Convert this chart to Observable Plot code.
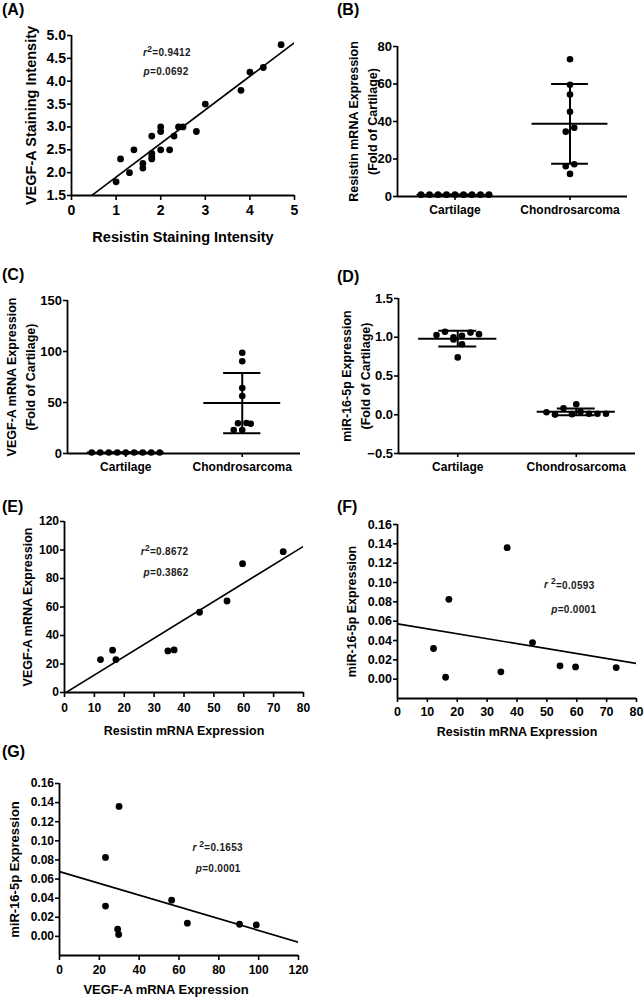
<!DOCTYPE html>
<html><head><meta charset="utf-8">
<script src="https://cdn.jsdelivr.net/npm/d3@7"></script>
<script src="https://cdn.jsdelivr.net/npm/@observablehq/plot@0.6"></script>
<style>
body{margin:0;background:#fff;}
#fig{position:relative;width:644px;height:999px;overflow:hidden;background:#fff;font-family:"Liberation Sans",Arial,Helvetica,sans-serif;}
.panel{position:absolute;}
.plabel{position:absolute;font-weight:bold;font-size:16px;line-height:16px;color:#000;}
</style></head><body><div id="fig"></div>
<script>
// ---------------- DATA ----------------
const groups = ["Cartilage", "Chondrosarcoma"];
// (A) staining intensities
const stainResistin = [1.0,1.1,1.3,1.4,1.6,1.6,1.8,1.8,1.8,1.8,2.0,2.0,2.0,2.2,2.3,2.4,2.5,2.8,3.0,3.8,4.0,4.3,4.7];
const stainVEGF     = [1.8,2.3,2.0,2.5,2.2,2.1,2.8,2.42,2.35,2.3,3.0,2.9,2.5,2.5,2.8,3.0,3.0,2.9,3.5,3.8,4.2,4.3,4.8];
// (B)-(G) expression, fold of cartilage (9 samples each)
const resistinCartilage = [1,1,1,1,1,1,1,1,1];
const resistinChondro   = [12.05,16.1,17.2,34.6,36.7,45.2,54.4,59.6,73.2];
const vegfCartilage     = [1,1,1,1,1,1,1,1,1];
const vegfChondro       = [23.1,29.7,23.1,29.2,29.9,56.3,64.2,90.4,98.8];
const mirCartilage      = [1.03,1.07,0.97,1.00,0.91,0.74,1.02,1.06,1.04];
const mirChondro        = [0.0317,0.002,0.0826,0.0076,0.136,0.0379,0.0138,0.0127,0.012];
// statistics text (as printed) and their data positions
const statsA = ["r2=0.9412", "p=0.0692"];  const statsAx = [2.14, 2.12];  const statsAy = [4.63, 4.21];
const statsE = ["r2=0.8672", "p=0.3862"];  const statsEx = [33.5, 34];   const statsEy = [99, 84];
const statsF = ["r 2=0.0593", "p=0.0001"]; const statsFx = [57.5, 59];   const statsFy = [0.0973, 0.0715];
const statsG = ["r 2=0.1653", "p=0.0001"]; const statsGx = [79.4, 79.7]; const statsGy = [0.0932, 0.0704];
// tick values
const ticksAx = [0,1,2,3,4,5];
const ticksAy = [1.5,2.0,2.5,3.0,3.5,4.0,4.5,5.0];
const ticksBy = [0,20,40,60,80];
const ticksCy = [0,50,100,150];
const ticksDy = [-0.5,0,0.5,1.0,1.5];
const ticks80 = [0,10,20,30,40,50,60,70,80];
const ticksEy = [0,20,40,60,80,100,120];
const ticksMir = [0,0.02,0.04,0.06,0.08,0.10,0.12,0.14,0.16];
const ticksGx = [0,20,40,60,80,100,120];

// ---------------- HELPERS ----------------
const FONT = '"Liberation Sans", Arial, Helvetica, sans-serif';
const fig = document.getElementById("fig");

function regression(xs, ys) {
  const mx = d3.mean(xs), my = d3.mean(ys);
  let sxy = 0, sxx = 0;
  xs.forEach((x, i) => { sxy += (x - mx) * (ys[i] - my); sxx += (x - mx) ** 2; });
  const b = sxy / sxx;
  return {a: my - b * mx, b};
}

function scatterMarks(xs, ys, xDomain, txt, tx, ty) {
  const {a, b} = regression(xs, ys);
  const line = xDomain.map(x => ({x, y: a + b * x}));
  const pts = xs.map((x, i) => ({x, y: ys[i]}));
  const notes = txt.map((t, i) => ({t, x: tx[i], y: ty[i]}));
  return [
    Plot.line(line, {x: "x", y: "y", stroke: "black", strokeWidth: 1.6, clip: true}),
    Plot.dot(pts, {x: "x", y: "y", r: 3.4, fill: "black"}),
    Plot.text(notes, {x: "x", y: "y", text: "t", fontSize: 10, fontWeight: "bold", fill: "#1a1a1a"})
  ];
}

// swarm layout: points that collide vertically are spread horizontally, centred on the group
function swarm(values, g, pxPerY, spacingUnits) {
  const idx = values.map((v, i) => i).sort((a, b) => values[a] - values[b]);
  const rows = []; let cur = null;
  for (const i of idx) {
    if (cur && (values[i] - values[cur[0]]) * pxPerY < 6.5) cur.push(i);
    else { cur = [i]; rows.push(cur); }
  }
  const out = [];
  for (const row of rows) {
    row.sort((a, b) => a - b);
    row.forEach((i, k) => out.push({v: values[i], x: g + (k - (row.length - 1) / 2) * spacingUnits}));
  }
  return out;
}

function groupMarks(cart, chondro, cfg) {
  const iw = cfg.W - cfg.ml - cfg.mr, ih = cfg.H - cfg.mt - cfg.mb;
  const pxX = iw / (cfg.xDomain[1] - cfg.xDomain[0]);
  const pxY = ih / (cfg.yDomain[1] - cfg.yDomain[0]);
  const sp = 8.5 / pxX;
  const pts = [...swarm(cart, 1, pxY, sp), ...swarm(chondro, 2, pxY, sp)];
  const stats = [[1, cart], [2, chondro]].map(([g, v]) => ({g, m: d3.mean(v), s: d3.deviation(v) || 0}));
  return [
    Plot.dot(pts, {x: "x", y: "v", r: 3.3, fill: "black"}),
    Plot.ruleY(stats, {y: "m", x1: d => d.g - 0.33, x2: d => d.g + 0.33, stroke: "black", strokeWidth: 2}),
    Plot.ruleY(stats, {y: d => d.m + d.s, x1: d => d.g - 0.16, x2: d => d.g + 0.16, stroke: "black", strokeWidth: 2}),
    Plot.ruleY(stats, {y: d => d.m - d.s, x1: d => d.g - 0.16, x2: d => d.g + 0.16, stroke: "black", strokeWidth: 2}),
    Plot.ruleX(stats, {x: "g", y1: d => d.m - d.s, y2: d => d.m + d.s, stroke: "black", strokeWidth: 2})
  ];
}

function build(cfg) {
  const marks = [
    Plot.axisX({ticks: cfg.xTicks, tickFormat: cfg.xFormat, tickSize: cfg.xTickSize, tickPadding: cfg.xTickPadding,
      fontSize: cfg.xFont, fontWeight: "bold", strokeWidth: 1.6, label: null}),
    Plot.axisY({ticks: cfg.yTicks, tickFormat: cfg.yFormat, tickSize: cfg.yTickSize, tickPadding: cfg.yTickPadding,
      fontSize: cfg.yFont, fontWeight: "bold", strokeWidth: 1.6, label: null}),
    ...cfg.marks,
    Plot.ruleX([cfg.xDomain[0]], {stroke: "black", strokeWidth: 1.8}),
    Plot.ruleY([cfg.yDomain[0]], {stroke: "black", strokeWidth: 1.8}),
    Plot.text([cfg.xLabel], {frameAnchor: "bottom", text: d => d, dy: cfg.xLabelDy, dx: cfg.xLabelDx || 0,
      fontSize: cfg.labelFont, fontWeight: "bold", textAnchor: "middle", lineAnchor: "middle"}),
    Plot.text([cfg.yLabel], {frameAnchor: "left", text: d => d, rotate: -90, dx: cfg.yLabelDx,
      fontSize: cfg.yLabelFont || cfg.labelFont, fontWeight: "bold", textAnchor: "middle", lineAnchor: "middle", lineHeight: 1.5})
  ];
  const svg = Plot.plot({
    width: cfg.W, height: cfg.H,
    marginTop: cfg.mt, marginRight: cfg.mr, marginBottom: cfg.mb, marginLeft: cfg.ml,
    x: {domain: cfg.xDomain}, y: {domain: cfg.yDomain},
    style: {fontFamily: FONT, fontSize: cfg.yFont + "px", fontWeight: "bold", color: "black", background: "transparent", overflow: "visible"},
    marks
  });
  // italic r / p and superscript 2 in the statistics text
  d3.select(svg).selectAll("text").each(function () {
    if (this.querySelector("tspan")) return;
    const t = this.textContent;
    const m = t.match(/^(r|p)( ?)(2?)(=.*)$/);
    if (!m) return;
    this.textContent = "";
    const s = d3.select(this).attr("letter-spacing", "0.3px");
    s.append("tspan").attr("font-style", "italic").text(m[1]);
    if (m[3]) {
      s.append("tspan").attr("dy", "-0.45em").attr("font-size", "0.85em").text(m[2] + m[3]);
      s.append("tspan").attr("dy", "0.45em").text(m[4]);
    } else {
      s.append("tspan").text(m[4]);
    }
  });
  // axis tick label sizes
  d3.select(svg).selectAll("g[aria-label='x-axis tick label']").attr("font-size", cfg.xFont);
  d3.select(svg).selectAll("g[aria-label='y-axis tick label']").attr("font-size", cfg.yFont);
  d3.select(svg).selectAll("g[aria-label='x-axis tick label'] text").attr("font-size", cfg.xFont).attr("font-weight", "bold");
  d3.select(svg).selectAll("g[aria-label='y-axis tick label'] text").attr("font-size", cfg.yFont).attr("font-weight", "bold");
  const div = document.createElement("div");
  div.className = "panel";
  div.style.left = cfg.left + "px"; div.style.top = cfg.top + "px";
  div.appendChild(svg);
  fig.appendChild(div);
  const lab = document.createElement("div");
  lab.className = "plabel";
  lab.textContent = cfg.tag;
  lab.style.left = cfg.tagX + "px"; lab.style.top = cfg.tagY + "px";
  fig.appendChild(lab);
}

const catFmt = d => groups[d - 1];
const f1 = d3.format(".1f"), f2 = d3.format(".2f");

// ---------------- PANELS ----------------
// (A)
const cfgA = {tag: "(A)", tagX: 2, tagY: 2, left: 0, top: 0, W: 320, H: 250, mt: 35, mr: 26, mb: 55, ml: 71,
  xDomain: [0, 5], yDomain: [1.5, 5.0], xTicks: ticksAx, yTicks: ticksAy, xFormat: d => d, yFormat: f1,
  xTickSize: 5, xTickPadding: 5, yTickSize: 4, yTickPadding: 1.5, xFont: 14, yFont: 14, labelFont: 14.5,
  xLabel: "Resistin Staining Intensity", yLabel: "VEGF-A Staining Intensity", xLabelDy: 42, yLabelDx: -42};
cfgA.marks = scatterMarks(stainResistin, stainVEGF, cfgA.xDomain, statsA, statsAx, statsAy);
build(cfgA);

// (B)
const cfgB = {tag: "(B)", tagX: 337, tagY: 2, left: 320, top: 0, W: 324, H: 250, mt: 46, mr: 17, mb: 54, ml: 77,
  xDomain: [0.5, 2.5], yDomain: [0, 80], xTicks: [1, 2], yTicks: ticksBy, xFormat: catFmt, yFormat: d => d,
  xTickSize: 4, xTickPadding: 5, yTickSize: 4, yTickPadding: 1.5, xFont: 12, yFont: 13, labelFont: 12.5,
  xLabel: "", yLabel: "Resistin mRNA Expression\n(Fold of Cartilage)", xLabelDy: 40, yLabelDx: -36};
cfgB.marks = groupMarks(resistinCartilage, resistinChondro, cfgB);
build(cfgB);

// (C)
const cfgC = {tag: "(C)", tagX: 2, tagY: 267, left: 0, top: 250, W: 320, H: 230, mt: 50, mr: 20, mb: 27, ml: 67,
  xDomain: [0.5, 2.5], yDomain: [0, 150], xTicks: [1, 2], yTicks: ticksCy, xFormat: catFmt, yFormat: d => d,
  xTickSize: 4, xTickPadding: 5, yTickSize: 4, yTickPadding: 1.5, xFont: 12, yFont: 13, labelFont: 12.5,
  xLabel: "", yLabel: "VEGF-A mRNA Expression\n(Fold of Cartilage)", xLabelDy: 40, yLabelDx: -48};
cfgC.marks = groupMarks(vegfCartilage, vegfChondro, cfgC);
build(cfgC);

// (D)
const cfgD = {tag: "(D)", tagX: 337, tagY: 269, left: 320, top: 250, W: 324, H: 230, mt: 48, mr: 9, mb: 27, ml: 78,
  xDomain: [0.5, 2.5], yDomain: [-0.5, 1.5], xTicks: [1, 2], yTicks: ticksDy, xFormat: catFmt, yFormat: f1,
  xTickSize: 4, xTickPadding: 5, yTickSize: 4, yTickPadding: 1.5, xFont: 12, yFont: 13, labelFont: 12.5,
  xLabel: "", yLabel: "miR-16-5p Expression\n(Fold of Cartilage)", xLabelDy: 40, yLabelDx: -44};
cfgD.marks = groupMarks(mirCartilage, mirChondro, cfgD);
build(cfgD);

// (E)
const cfgE = {tag: "(E)", tagX: 2, tagY: 499, left: 0, top: 480, W: 320, H: 260, mt: 41, mr: 17, mb: 48, ml: 64,
  xDomain: [0, 80], yDomain: [0, 120], xTicks: ticks80, yTicks: ticksEy, xFormat: d => d, yFormat: d => d,
  xTickSize: 5, xTickPadding: 6, yTickSize: 4, yTickPadding: 1.5, xFont: 12, yFont: 12, labelFont: 12.5,
  xLabel: "Resistin mRNA Expression", yLabel: "VEGF-A mRNA Expression", xLabelDy: 38, yLabelDx: -38.5};
cfgE.marks = scatterMarks(resistinChondro, vegfChondro, cfgE.xDomain, statsE, statsEx, statsEy);
build(cfgE);

// (F)
const cfgF = {tag: "(F)", tagX: 337, tagY: 499, left: 320, top: 480, W: 324, H: 260, mt: 44, mr: 8, mb: 42, ml: 77,
  xDomain: [0, 80], yDomain: [-0.02, 0.16], xTicks: ticks80, yTicks: ticksMir, xFormat: d => d, yFormat: f2,
  xTickSize: 4, xTickPadding: 5, yTickSize: 4, yTickPadding: 1.5, xFont: 12.5, yFont: 12.5, labelFont: 12.5,
  xLabel: "Resistin mRNA Expression", yLabel: "miR-16-5p Expression", xLabelDy: 33, yLabelDx: -47.5};
cfgF.marks = scatterMarks(resistinChondro, mirChondro, cfgF.xDomain, statsF, statsFx, statsFy);
build(cfgF);

// (G)
const cfgG = {tag: "(G)", tagX: 2, tagY: 744, left: 0, top: 740, W: 320, H: 259, mt: 43, mr: 22, mb: 44, ml: 59,
  xDomain: [0, 120], yDomain: [-0.02, 0.16], xTicks: ticksGx, yTicks: ticksMir, xFormat: d => d, yFormat: f2,
  xTickSize: 5, xTickPadding: 5, yTickSize: 4, yTickPadding: 1.5, xFont: 12, yFont: 12, labelFont: 13,
  xLabel: "VEGF-A mRNA Expression", yLabel: "miR-16-5p Expression", xLabelDy: 34, xLabelDx: -13, yLabelDx: -46.5};
cfgG.marks = scatterMarks(vegfChondro, mirChondro, cfgG.xDomain, statsG, statsGx, statsGy);
build(cfgG);
</script></body></html>
